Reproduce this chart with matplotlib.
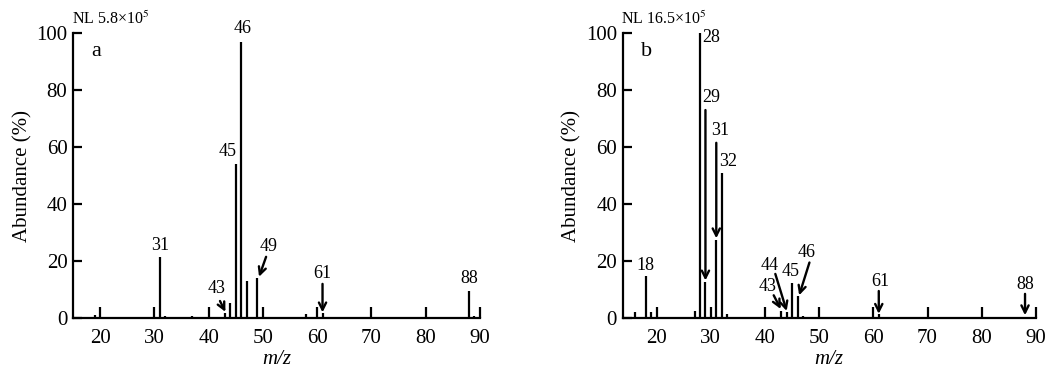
## Mass spectra a and b, stick plots with peak labels

import matplotlib
matplotlib.use('Agg')
import matplotlib.pyplot as plt

plt.rcParams['font.family'] = ['Liberation Serif', 'DejaVu Serif']
plt.rcParams['mathtext.fontset'] = 'stix'

# spectrum a
mz_a = [19, 29, 31, 32, 37, 42, 43, 44, 45, 46, 47, 49, 55, 58, 61, 73, 88, 89]
ab_a = [1.0, 0.4, 21.5, 0.8, 0.6, 0.5, 1.8, 5.2, 54, 97, 13.1, 14, 0.3, 1.4, 1.8, 0.5, 9.5, 0.6]
nl_a = 'NL 5.8×10$^5$'

# spectrum b
mz_b = [16, 17, 18, 19, 26, 27, 28, 29, 31, 32, 33, 42, 43, 44, 45, 46, 47, 55, 61, 88]
ab_b = [2.3, 0.5, 14.8, 2.3, 0.5, 2.5, 100, 12.7, 27.5, 50.8, 1.3, 0.5, 2.6, 2.0, 12.3, 7.6, 0.6, 0.5, 1.5, 0.5]
nl_b = 'NL 16.5×10$^5$'

xticks = [20, 30, 40, 50, 60, 70, 80, 90]
yticks = [0, 20, 40, 60, 80, 100]

fig = plt.figure(figsize=(10.57, 3.76), dpi=100)
ax_a = fig.add_axes([0.069, 0.154, 0.385, 0.758])
ax_b = fig.add_axes([0.589, 0.154, 0.391, 0.758])


def setup(ax, xmin, letter, nl):
        ax.set_xlim(xmin, 90)
        ax.set_ylim(0, 100)
        ax.spines['top'].set_visible(False)
        ax.spines['right'].set_visible(False)
        ax.spines['left'].set_linewidth(1.6)
        ax.spines['bottom'].set_linewidth(1.6)
        ax.set_xticks(xticks)
        ax.set_yticks(yticks)
        ax.tick_params(axis='x', direction='in', length=8, width=1.6, labelsize=15, pad=8)
        ax.tick_params(axis='y', direction='in', length=6.5, width=1.6, labelsize=15, pad=4)
        ax.set_xlabel('m/z', fontsize=15, style='italic', labelpad=1)
        ax.set_ylabel('Abundance (%)', fontsize=15, labelpad=3)
        ax.text(0.045, 0.935, letter, transform=ax.transAxes, fontsize=16, ha='left', va='center')
        ax.text(-0.003, 1.018, nl, transform=ax.transAxes, fontsize=11.5, ha='left', va='bottom')


def arrow(ax, x0, y0, x1, y1):
        ax.annotate('', xy=(x1, y1), xytext=(x0, y0),
                    arrowprops=dict(arrowstyle='->', lw=1.7, color='black', mutation_scale=13,
                                    shrinkA=0, shrinkB=0))


# panel a
setup(ax_a, 15, 'a', nl_a)
ax_a.vlines(mz_a, 0, ab_a, color='black', lw=1.6)
lab = dict(fontsize=13, ha='center', va='bottom')
ax_a.text(31, 22.5, '31', **lab)
ax_a.text(43.6, 55.5, '45', **lab)
ax_a.text(46.3, 98.5, '46', **lab)
ax_a.text(41.4, 7.5, '43', **lab)
arrow(ax_a, 42.1, 6.0, 43.1, 2.2)
ax_a.text(51.0, 22.0, '49', **lab)
arrow(ax_a, 50.6, 21.5, 49.3, 14.5)
ax_a.text(61, 12.5, '61', **lab)
arrow(ax_a, 61, 12.0, 61, 2.0)
ax_a.text(88, 10.8, '88', **lab)

# panel b
setup(ax_b, 13.7, 'b', nl_b)
ax_b.vlines(mz_b, 0, ab_b, color='black', lw=1.6)
ax_b.text(18, 15.5, '18', **lab)
ax_b.text(30.1, 95.5, '28', **lab)
ax_b.text(30.1, 74.5, '29', **lab)
arrow(ax_b, 29, 73, 29, 13.2)
ax_b.text(31.8, 63, '31', **lab)
arrow(ax_b, 31, 61.5, 31, 28.0)
ax_b.text(33.1, 52, '32', **lab)
ax_b.text(40.4, 8.0, '43', **lab)
arrow(ax_b, 41.6, 8.0, 42.9, 3.2)
ax_b.text(40.8, 15.5, '44', **lab)
arrow(ax_b, 41.9, 15.5, 44.0, 2.5)
ax_b.text(44.8, 13.5, '45', **lab)
ax_b.text(47.7, 20.0, '46', **lab)
arrow(ax_b, 48.2, 19.5, 46.3, 8.0)
ax_b.text(61.2, 9.8, '61', **lab)
arrow(ax_b, 61, 9.5, 61, 1.5)
ax_b.text(88, 8.8, '88', **lab)
arrow(ax_b, 88, 8.5, 88, 1.0)

fig.savefig('out.png', dpi=100)
